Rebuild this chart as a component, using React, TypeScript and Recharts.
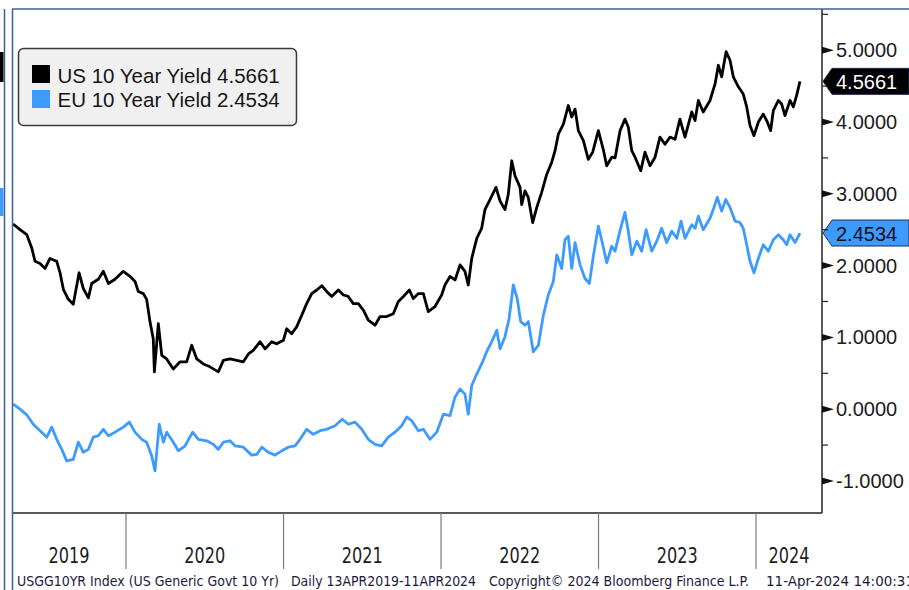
import React from 'react';
import { LineChart, Line, XAxis, YAxis, ReferenceLine, Legend } from 'recharts';

document.body.style.margin = '0';

// [decimal year, yield %]
const usYield: [number, number][] = [
  [2019.283, 2.58], [2019.327, 2.5], [2019.37, 2.43], [2019.401, 2.25], [2019.422, 2.06],
  [2019.454, 2.03], [2019.486, 1.96], [2019.517, 2.1], [2019.56, 2.06], [2019.581, 1.9],
  [2019.602, 1.67], [2019.634, 1.53], [2019.665, 1.46], [2019.702, 1.9], [2019.729, 1.68],
  [2019.761, 1.55], [2019.782, 1.75], [2019.824, 1.81], [2019.856, 1.92], [2019.888, 1.75],
  [2019.93, 1.81], [2019.983, 1.92], [2020.025, 1.85], [2020.057, 1.78], [2020.078, 1.64],
  [2020.11, 1.61], [2020.131, 1.53], [2020.152, 1.22], [2020.173, 0.98], [2020.18, 0.52],
  [2020.205, 1.19], [2020.227, 0.75], [2020.258, 0.7], [2020.3, 0.56], [2020.343, 0.66],
  [2020.385, 0.66], [2020.417, 0.89], [2020.449, 0.7], [2020.491, 0.63], [2020.533, 0.59],
  [2020.586, 0.52], [2020.618, 0.68], [2020.66, 0.7], [2020.703, 0.68], [2020.745, 0.66],
  [2020.777, 0.77], [2020.808, 0.82], [2020.851, 0.94], [2020.883, 0.84], [2020.925, 0.94],
  [2020.957, 0.91], [2020.999, 0.96], [2021.02, 1.12], [2021.052, 1.05], [2021.084, 1.15],
  [2021.116, 1.31], [2021.147, 1.47], [2021.179, 1.61], [2021.211, 1.66], [2021.243, 1.72],
  [2021.274, 1.64], [2021.306, 1.57], [2021.348, 1.66], [2021.38, 1.59], [2021.411, 1.57],
  [2021.443, 1.47], [2021.475, 1.47], [2021.507, 1.38], [2021.538, 1.24], [2021.581, 1.17],
  [2021.613, 1.29], [2021.655, 1.29], [2021.697, 1.33], [2021.729, 1.5], [2021.761, 1.57],
  [2021.799, 1.66], [2021.824, 1.54], [2021.856, 1.61], [2021.888, 1.61], [2021.919, 1.36],
  [2021.962, 1.43], [2022.004, 1.59], [2022.025, 1.73], [2022.057, 1.85], [2022.089, 1.8],
  [2022.121, 2.01], [2022.152, 1.92], [2022.173, 1.73], [2022.195, 2.1], [2022.227, 2.38],
  [2022.258, 2.52], [2022.279, 2.78], [2022.311, 2.92], [2022.349, 3.09], [2022.375, 2.9],
  [2022.406, 2.78], [2022.427, 2.99], [2022.449, 3.46], [2022.47, 3.25], [2022.502, 3.09],
  [2022.512, 2.85], [2022.533, 3.04], [2022.554, 2.95], [2022.582, 2.6], [2022.608, 2.81],
  [2022.639, 3.02], [2022.671, 3.27], [2022.703, 3.44], [2022.724, 3.6], [2022.745, 3.83],
  [2022.777, 3.97], [2022.808, 4.23], [2022.83, 4.07], [2022.851, 4.18], [2022.872, 3.88],
  [2022.904, 3.74], [2022.935, 3.48], [2022.963, 3.58], [2022.999, 3.88], [2023.03, 3.62],
  [2023.052, 3.39], [2023.084, 3.51], [2023.105, 3.5], [2023.137, 3.88], [2023.168, 4.04],
  [2023.189, 3.93], [2023.211, 3.6], [2023.232, 3.51], [2023.268, 3.32], [2023.295, 3.58],
  [2023.327, 3.39], [2023.359, 3.51], [2023.39, 3.79], [2023.422, 3.69], [2023.454, 3.79],
  [2023.486, 3.76], [2023.517, 4.04], [2023.549, 3.79], [2023.592, 4.14], [2023.613, 4.02],
  [2023.634, 4.3], [2023.665, 4.14], [2023.708, 4.3], [2023.74, 4.53], [2023.761, 4.79],
  [2023.782, 4.63], [2023.81, 4.98], [2023.835, 4.86], [2023.856, 4.63], [2023.888, 4.49],
  [2023.919, 4.39], [2023.941, 4.21], [2023.962, 3.95], [2023.987, 3.81], [2024.015, 4.0],
  [2024.046, 4.11], [2024.068, 4.02], [2024.093, 3.88], [2024.11, 4.16], [2024.142, 4.3],
  [2024.163, 4.25], [2024.184, 4.09], [2024.216, 4.3], [2024.237, 4.21], [2024.258, 4.37],
  [2024.279, 4.5661],
];

const euYield: [number, number][] = [
  [2019.283, 0.07], [2019.327, 0.0], [2019.37, -0.08], [2019.411, -0.21], [2019.454, -0.3],
  [2019.497, -0.39], [2019.528, -0.25], [2019.56, -0.42], [2019.592, -0.56], [2019.623, -0.72],
  [2019.665, -0.7], [2019.697, -0.46], [2019.729, -0.6], [2019.761, -0.56], [2019.792, -0.39],
  [2019.824, -0.37], [2019.856, -0.28], [2019.888, -0.37], [2019.93, -0.32], [2019.983, -0.25],
  [2020.021, -0.18], [2020.057, -0.32], [2020.1, -0.42], [2020.131, -0.46], [2020.163, -0.65],
  [2020.184, -0.86], [2020.211, -0.21], [2020.237, -0.46], [2020.258, -0.32], [2020.3, -0.46],
  [2020.332, -0.58], [2020.375, -0.51], [2020.423, -0.32], [2020.459, -0.42], [2020.512, -0.44],
  [2020.554, -0.49], [2020.586, -0.56], [2020.618, -0.46], [2020.66, -0.44], [2020.692, -0.51],
  [2020.745, -0.53], [2020.798, -0.64], [2020.83, -0.63], [2020.862, -0.53], [2020.904, -0.6],
  [2020.946, -0.64], [2020.989, -0.58], [2021.03, -0.53], [2021.073, -0.51], [2021.105, -0.42],
  [2021.147, -0.28], [2021.189, -0.35], [2021.232, -0.3], [2021.274, -0.28], [2021.327, -0.23],
  [2021.373, -0.14], [2021.411, -0.21], [2021.454, -0.18], [2021.497, -0.28], [2021.538, -0.42],
  [2021.581, -0.49], [2021.623, -0.51], [2021.665, -0.39], [2021.708, -0.32], [2021.75, -0.23],
  [2021.782, -0.11], [2021.814, -0.16], [2021.856, -0.3], [2021.888, -0.28], [2021.93, -0.42],
  [2021.973, -0.32], [2022.015, -0.07], [2022.057, -0.09], [2022.089, 0.17], [2022.121, 0.28],
  [2022.152, 0.21], [2022.173, -0.07], [2022.195, 0.33], [2022.227, 0.49], [2022.258, 0.63],
  [2022.29, 0.8], [2022.322, 0.94], [2022.354, 1.1], [2022.375, 0.84], [2022.406, 1.01],
  [2022.432, 1.26], [2022.459, 1.73], [2022.484, 1.54], [2022.506, 1.22], [2022.533, 1.17],
  [2022.554, 1.22], [2022.586, 0.8], [2022.618, 0.89], [2022.65, 1.31], [2022.681, 1.59],
  [2022.713, 1.78], [2022.735, 2.15], [2022.766, 1.96], [2022.787, 2.36], [2022.808, 2.41],
  [2022.83, 1.96], [2022.851, 2.32], [2022.883, 2.01], [2022.914, 1.82], [2022.942, 1.75],
  [2022.967, 2.13], [2022.999, 2.55], [2023.027, 2.29], [2023.052, 2.04], [2023.084, 2.27],
  [2023.105, 2.2], [2023.137, 2.49], [2023.168, 2.74], [2023.189, 2.48], [2023.211, 2.15],
  [2023.243, 2.34], [2023.274, 2.2], [2023.302, 2.5], [2023.338, 2.2], [2023.37, 2.34],
  [2023.401, 2.52], [2023.433, 2.32], [2023.465, 2.48], [2023.497, 2.38], [2023.524, 2.62],
  [2023.549, 2.38], [2023.592, 2.57], [2023.613, 2.52], [2023.634, 2.69], [2023.665, 2.5],
  [2023.708, 2.66], [2023.733, 2.81], [2023.754, 2.95], [2023.782, 2.76], [2023.808, 2.92],
  [2023.835, 2.81], [2023.867, 2.62], [2023.898, 2.6], [2023.919, 2.52], [2023.941, 2.29],
  [2023.962, 2.06], [2023.987, 1.9], [2024.015, 2.1], [2024.046, 2.29], [2024.078, 2.2],
  [2024.11, 2.36], [2024.142, 2.43], [2024.173, 2.36], [2024.195, 2.29], [2024.216, 2.43],
  [2024.248, 2.32], [2024.279, 2.4534],
];

const xDomain = [2019.276, 2024.419];
const yearBounds = [2020, 2021, 2022, 2023, 2024];
const yTicks = [-1, -0.5, 0, 0.5, 1, 1.5, 2, 2.5, 3, 3.5, 4, 4.5, 5, 5.5];
const seriesNames = ['US 10 Year Yield', 'EU 10 Year Yield'];

const US_COLOR = '#000000';
const EU_COLOR = '#3d9bff';
const FONT = '"Liberation Sans", Arial, sans-serif';
const NARROW = '"Liberation Sans Narrow", "DejaVu Sans Condensed", "Liberation Sans", sans-serif';

const usData = usYield.map(([t, v]) => ({ t, v }));
const euData = euYield.map(([t, v]) => ({ t, v }));
const usLast = usYield[usYield.length - 1][1];
const euLast = euYield[euYield.length - 1][1];

// year labels sit in the middle of each visible year span
const edges = [xDomain[0], ...yearBounds, xDomain[1]];
const labelTicks = edges.slice(0, -1).map((e, i) => (e + edges[i + 1]) / 2);
const xTicks = [...labelTicks, ...yearBounds].sort((a, b) => a - b);

function XTick(props: any) {
  const { x, y, payload } = props;
  const v = payload.value;
  if (Number.isInteger(v)) {
    return <line x1={x} x2={x} y1={y} y2={y + 56} stroke="#7a7a7a" strokeWidth={1.2} />;
  }
  return (
    <text x={x} y={y + 50} textAnchor="middle" fontFamily={NARROW} fontSize={22}
      textLength={41} lengthAdjust="spacingAndGlyphs" fill="#1c1c1c">
      {Math.floor(v)}
    </text>
  );
}

function YTick(props: any) {
  const { x, y, payload } = props;
  const v = payload.value;
  if (!Number.isInteger(v)) {
    return <line x1={x} x2={x + 6} y1={y} y2={y} stroke="#222" strokeWidth={1.2} />;
  }
  return (
    <g>
      <path d={`M${x} ${y - 3.5} L${x + 12} ${y} L${x} ${y + 3.5} Z`} fill="#111" />
      <text x={x + 14} y={y + 7} fontFamily={FONT} fontSize={20} fill="#1c1c1c">
        {v.toFixed(4)}
      </text>
    </g>
  );
}

function PriceTag(props: any) {
  const { viewBox, value, fill, color } = props;
  const x = viewBox.x + viewBox.width;
  const cy = viewBox.y;
  const h = 13;
  return (
    <g>
      <path d={`M${x + 1} ${cy} L${x + 10} ${cy - h} L909 ${cy - h} L909 ${cy + h} L${x + 10} ${cy + h} Z`}
        fill={fill} stroke="#1d2f55" strokeWidth={1} />
      <text x={x + 14} y={cy + 7.5} fontFamily={FONT} fontSize={20} fill={color}>
        {value.toFixed(4)}
      </text>
    </g>
  );
}

function LegendBox(props: any) {
  const payload = props.payload || [];
  const lastOf: Record<string, number> = { [seriesNames[0]]: usLast, [seriesNames[1]]: euLast };
  const items = seriesNames.map((name) => ({
    name,
    color: (payload.find((p: any) => p.value === name) || {}).color || '#000',
  }));
  return (
    <svg width={282} height={81}>
      <rect x={1.5} y={1.5} width={278} height={77} rx={5} fill="#f0f0f0" stroke="#3a3a3a" strokeWidth={1.5} />
      {items.map((it, i) => (
        <g key={it.name}>
          <rect x={15} y={18 + i * 25} width={18} height={18} fill={it.color} />
          <text x={40.5} y={35.5 + i * 24.5} fontFamily={FONT} fontSize={20.5} fill="#161616">
            {`${it.name} ${lastOf[it.name].toFixed(4)}`}
          </text>
        </g>
      ))}
    </svg>
  );
}

export default function App() {
  return (
    <div style={{ position: 'relative', width: 909, height: 590, background: '#fff', overflow: 'hidden' }}>
      <LineChart width={909} height={590} margin={{ top: 9, right: 0, bottom: 0, left: 12 }}>
        <XAxis type="number" dataKey="t" domain={xDomain} allowDataOverflow ticks={xTicks} interval={0}
          height={77} tickLine={false} tickSize={0} tickMargin={0} tick={<XTick />}
          axisLine={{ stroke: '#222', strokeWidth: 1.5 }} />
        <YAxis orientation="right" type="number" domain={[-1.446, 5.574]} allowDataOverflow ticks={yTicks}
          interval={0} width={87} tickLine={false} tickSize={0} tickMargin={0} tick={<YTick />}
          axisLine={{ stroke: '#222', strokeWidth: 1.5 }} />
        <Legend layout="vertical" align="center" verticalAlign="middle" content={<LegendBox />}
          wrapperStyle={{ position: 'absolute', left: 17, top: 47, width: 282, height: 81 }} />
        <Line data={usData} dataKey="v" name={seriesNames[0]} stroke={US_COLOR} strokeWidth={2.8}
          dot={false} isAnimationActive={false} strokeLinejoin="round" />
        <Line data={euData} dataKey="v" name={seriesNames[1]} stroke={EU_COLOR} strokeWidth={2.8}
          dot={false} isAnimationActive={false} strokeLinejoin="round" />
        <ReferenceLine y={usLast} stroke="none" ifOverflow="visible"
          label={<PriceTag value={usLast} fill="#000" color="#fff" />} />
        <ReferenceLine y={euLast} stroke="none" ifOverflow="visible"
          label={<PriceTag value={euLast} fill={EU_COLOR} color="#111" />} />
      </LineChart>
      <svg width={909} height={590} style={{ position: 'absolute', left: 0, top: 0, pointerEvents: 'none' }}>
        <line x1={4.5} x2={4.5} y1={9} y2={590} stroke="#3b5f9c" strokeWidth={1.5} />
        <line x1={12.5} x2={12.5} y1={9} y2={590} stroke="#3b5f9c" strokeWidth={1.5} />
        <line x1={12} x2={909} y1={9} y2={9} stroke="#3b5f9c" strokeWidth={1.5} />
        <rect x={0} y={52} width={3.5} height={30} fill="#000" />
        <rect x={0} y={188} width={3.5} height={28} fill={EU_COLOR} />
        <g fontFamily={NARROW} fontSize={14} fill="#1b1b3b">
          <text x={17} y={586} textLength={262} lengthAdjust="spacingAndGlyphs">USGG10YR Index (US Generic Govt 10 Yr)</text>
          <text x={291} y={586} textLength={185} lengthAdjust="spacingAndGlyphs">Daily 13APR2019-11APR2024</text>
          <text x={489} y={586} textLength={260} lengthAdjust="spacingAndGlyphs">Copyright© 2024 Bloomberg Finance L.P.</text>
          <text x={766} y={586} textLength={148} lengthAdjust="spacingAndGlyphs">11-Apr-2024 14:00:31</text>
        </g>
      </svg>
    </div>
  );
}
